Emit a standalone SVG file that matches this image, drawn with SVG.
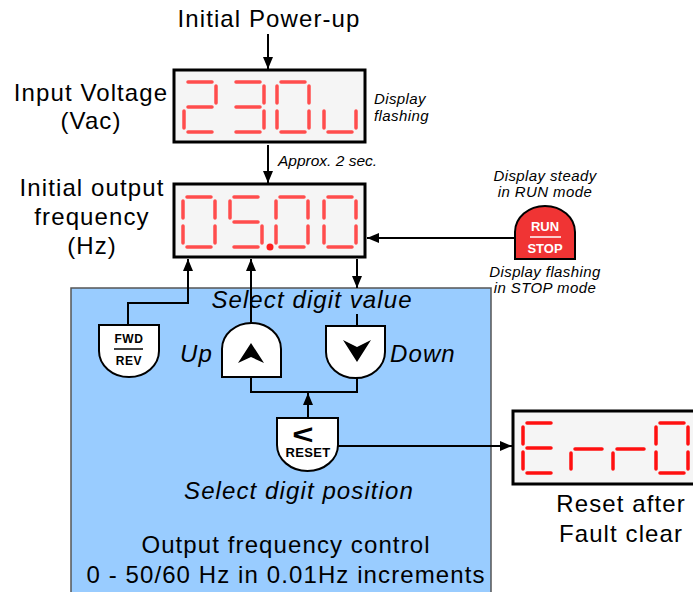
<svg xmlns="http://www.w3.org/2000/svg" width="693" height="592" viewBox="0 0 693 592">
<defs>
<marker id="ah" viewBox="0 0 12 10" refX="12" refY="5" markerWidth="12" markerHeight="10" markerUnits="userSpaceOnUse" orient="auto">
<path d="M0,0 L12,5 L0,10 Z" fill="#000"/>
</marker>
<style>
.t{font-family:"Liberation Sans",Arial,sans-serif;fill:#000;text-anchor:middle}
.big{font-size:24px;letter-spacing:1.1px}
.it{font-style:italic}
.sm{font-size:15px;font-style:italic;letter-spacing:0.4px}
.btn{fill:#fff;stroke:#000;stroke-width:2}
.bl{font-family:"Liberation Sans",Arial,sans-serif;font-weight:bold;font-size:12px;letter-spacing:0.6px;text-anchor:middle}
.disp{fill:#f5f5f5;stroke:#000;stroke-width:3}
.seg{stroke:#ff4d4d;stroke-width:3.5;stroke-linecap:round;fill:none}
.segr{stroke:#ff1010;stroke-width:3.5;stroke-linecap:round;fill:none}
.ln{stroke:#000;stroke-width:2;fill:none}
</style>
</defs>
<rect id="panel" x="71" y="288" width="420" height="310" fill="#99ccff" stroke="#555" stroke-width="1.5"/>

<g id="labels">
<text class="t big" x="269" y="27">Initial Power-up</text>
<text class="t big" x="91" y="101">Input Voltage</text>
<text class="t big" x="91" y="129">(Vac)</text>
<text class="t big" x="92" y="196">Initial output</text>
<text class="t big" x="92" y="225">frequency</text>
<text class="t big" x="92" y="254">(Hz)</text>
<text class="t sm" x="374" y="104" style="text-anchor:start">Display</text>
<text class="t sm" x="374" y="121" style="text-anchor:start">flashing</text>
<text class="t it" x="278" y="166" style="font-size:15.5px;text-anchor:start">Approx. 2 sec.</text>
<text class="t sm" x="545" y="181">Display steady</text>
<text class="t sm" x="545" y="197">in RUN mode</text>
<text class="t sm" x="545" y="277">Display flashing</text>
<text class="t sm" x="545" y="293">in STOP mode</text>
<text class="t big it" x="312" y="308">Select digit value</text>
<text class="t big it" x="213" y="362" style="text-anchor:end">Up</text>
<text class="t big it" x="390" y="362" style="text-anchor:start">Down</text>
<text class="t big it" x="299" y="499">Select digit position</text>
<text class="t big" x="286" y="553">Output frequency control</text>
<text class="t big" x="286" y="583">0 - 50/60 Hz in 0.01Hz increments</text>
<text class="t big" x="621" y="512">Reset after</text>
<text class="t big" x="621" y="542">Fault clear</text>
</g>

<g id="connectors">
<line class="ln" x1="268" y1="34" x2="268" y2="69" marker-end="url(#ah)"/>
<line class="ln" x1="268" y1="145" x2="268" y2="183" marker-end="url(#ah)"/>
<line class="ln" x1="515" y1="238" x2="367" y2="238" marker-end="url(#ah)"/>
<polyline class="ln" points="128,325 128,303 188,303 188,259" marker-end="url(#ah)"/>
<line class="ln" x1="251" y1="323" x2="251" y2="259" marker-end="url(#ah)"/>
<line class="ln" x1="357" y1="259" x2="357" y2="288" marker-end="url(#ah)"/>
<line class="ln" x1="357" y1="314" x2="357" y2="326"/>
<polyline class="ln" points="251,377 251,392 357,392 357,378"/>
<line class="ln" x1="308" y1="418" x2="308" y2="393" marker-end="url(#ah)"/>
<line class="ln" x1="338" y1="446" x2="512" y2="446" marker-end="url(#ah)"/>
</g>

<g id="display-voltage">
<rect class="disp" x="174" y="70" width="191" height="72"/>
<g class="seg" transform="translate(184,82)">
<path d="M4,0H28M32,4V21M28,25H4M0,29V46M4,50H28"/>
</g>
<g class="seg" transform="translate(232,82)">
<path d="M4,0H28M32,4V21M28,25H4M32,29V46M4,50H28"/>
</g>
<g class="seg" transform="translate(277,82)">
<path d="M4,0H28M32,4V21M32,29V46M4,50H28M0,29V46M0,4V21"/>
</g>
<g class="seg" transform="translate(324,82)">
<path d="M32,29V46M4,50H28M0,29V46"/>
</g>
</g>

<g id="display-frequency">
<rect class="disp" x="174" y="184" width="191" height="73"/>
<g class="seg" transform="translate(183,197)">
<path d="M4,0H28M32,4V21M32,29V46M4,50H28M0,29V46M0,4V21"/>
</g>
<g class="seg" transform="translate(230,197)">
<path d="M4,0H28M0,4V21M4,25H28M32,29V46M4,50H28"/>
</g>
<circle cx="270" cy="247" r="3.5" fill="#ff2020"/>
<g class="seg" transform="translate(276,197)">
<path d="M4,0H28M32,4V21M32,29V46M4,50H28M0,29V46M0,4V21"/>
</g>
<g class="seg" transform="translate(324,197)">
<path d="M4,0H28M32,4V21M32,29V46M4,50H28M0,29V46M0,4V21"/>
</g>
</g>

<g id="display-error">
<rect class="disp" x="513" y="411" width="185" height="73"/>
<g class="segr" transform="translate(523,423)">
<path d="M4,0H28M0,4V21M4,25H28M0,29V46M4,50H28"/>
</g>
<g class="segr" transform="translate(571,423)">
<path d="M0,30V46M4,26H31"/>
</g>
<g class="segr" transform="translate(613,423)">
<path d="M0,30V46M4,26H31"/>
</g>
<g class="segr" transform="translate(656,423)">
<path d="M4,0H28M32,4V21M32,29V46M4,50H28M0,29V46M0,4V21"/>
</g>
</g>

<g id="btn-fwdrev">
<path class="btn" d="M99,325 H159 V351 A30,26 0 0 1 99,351 Z"/>
<text class="bl" x="129" y="343">FWD</text>
<line x1="114" y1="349" x2="143" y2="349" stroke="#000" stroke-width="1.5"/>
<text class="bl" x="129" y="365">REV</text>
</g>

<g id="btn-up">
<path class="btn" d="M222,377 V349 A29.5,26 0 0 1 281,349 V377 Z"/>
<path d="M251,343 L264,363 L251,357 L238,363 Z" fill="#000"/>
</g>

<g id="btn-down">
<path class="btn" d="M326,326 H385 V352 A29.5,26 0 0 1 326,352 Z"/>
<path d="M357,362 L371,340 L357,347 L343,340 Z" fill="#000"/>
</g>

<g id="btn-reset">
<path class="btn" d="M277,418 H338 V445 A30.5,26 0 0 1 277,445 Z"/>
<text class="bl" transform="matrix(1.35 0 0 1 303 444)" x="0" y="0" style="font-size:27px;letter-spacing:0;text-anchor:middle">&lt;</text>
<text class="bl" x="308" y="457" style="font-size:13px;letter-spacing:0.3px">RESET</text>
</g>

<g id="btn-runstop">
<path d="M515,259 V232 A30,26 0 0 1 575,232 V259 Z" fill="#f03434" stroke="#000" stroke-width="2"/>
<text class="bl" x="545" y="231" style="font-size:13px;letter-spacing:0;fill:#fff">RUN</text>
<line x1="530" y1="237" x2="561" y2="237" stroke="#fff" stroke-width="1.5"/>
<text class="bl" x="545" y="253" style="font-size:13px;letter-spacing:0;fill:#fff">STOP</text>
</g>
</svg>
